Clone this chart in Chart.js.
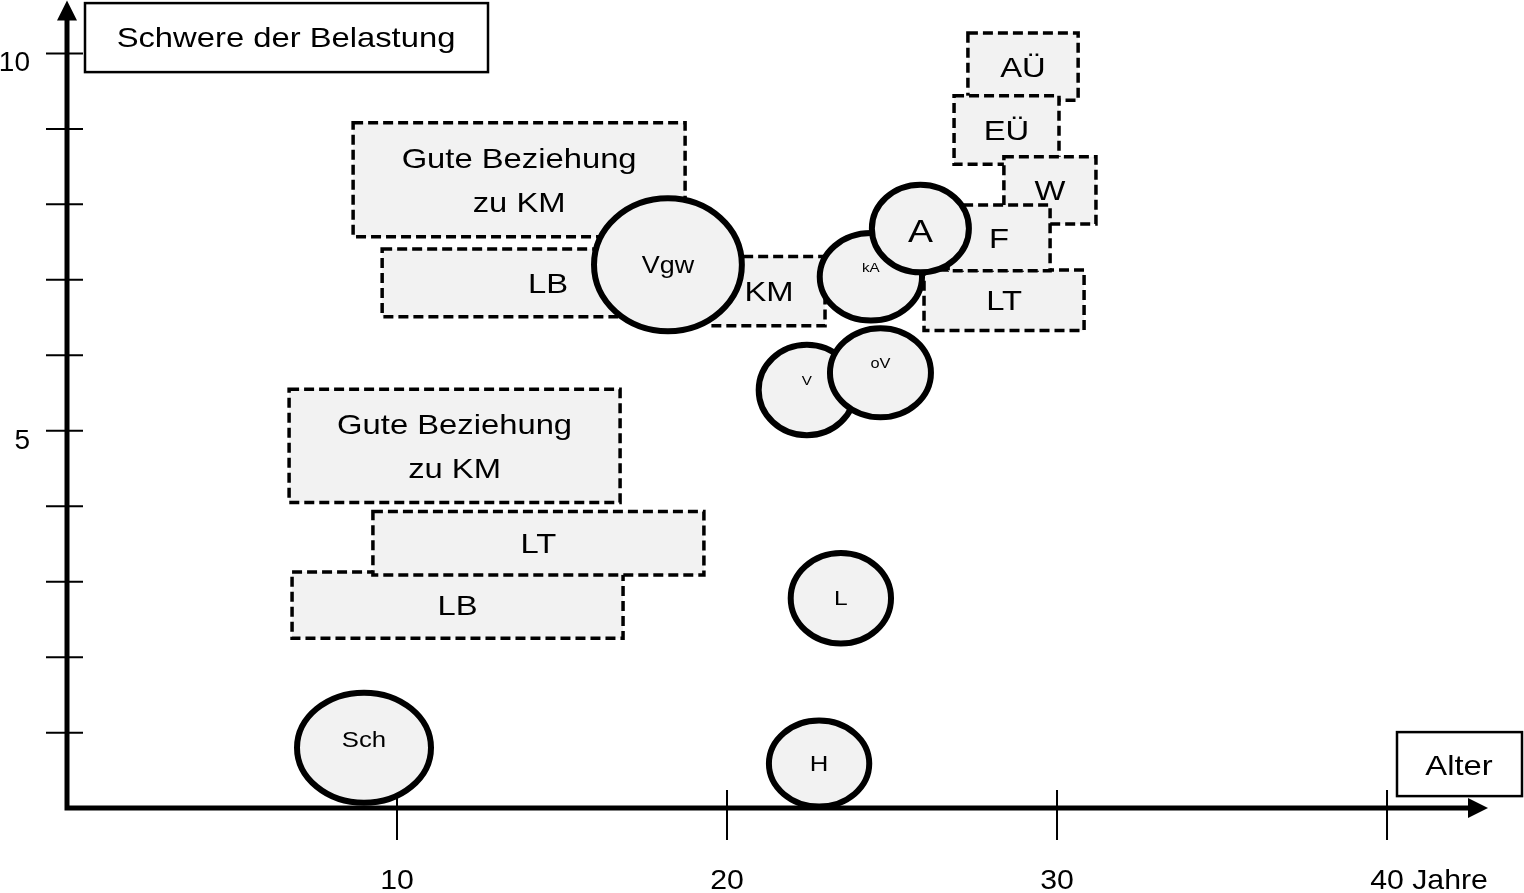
<!DOCTYPE html>
<html>
<head>
<meta charset="utf-8">
<script src="https://cdn.jsdelivr.net/npm/chart.js@4.4.1/dist/chart.umd.min.js"></script>
<style>
    html, body { margin: 0; padding: 0; background: #fff; }
    canvas { display: block; }
</style>
</head>
<body>
<canvas id="belastungChart" width="1524" height="893"></canvas>
<script>
// Rechtecke (Belastungen), Angaben in Achsen-Einheiten: Alter (Jahre) / Schwere
const boxLabels  = ['Gute Beziehung\nzu KM', 'LB', 'KM', 'Gute Beziehung\nzu KM', 'LB', 'LT', 'AÜ', 'EÜ', 'W', 'LT', 'F'];
const boxAgeFrom = [8.67, 9.55, 19.58, 6.73, 6.82, 9.27, 27.30, 26.88, 28.39, 25.97, 26.70];
const boxAgeTo   = [18.73, 19.60, 22.97, 16.76, 16.85, 19.30, 30.64, 30.06, 31.18, 30.82, 29.79];
const boxLow     = [7.57, 6.51, 6.39, 4.05, 2.25, 3.09, 9.38, 8.53, 7.74, 6.33, 7.12];
const boxHigh    = [9.08, 7.41, 7.31, 5.55, 3.13, 3.93, 10.27, 9.44, 8.63, 7.13, 7.99];

// Ellipsen (Ereignisse): Mittelpunkt und halbe Ausdehnung
const eventLabels = ['Sch', 'H', 'L', 'V', 'oV', 'kA', 'A', 'Vgw'];
const eventAge    = [9.00, 22.79, 23.45, 22.42, 24.65, 24.36, 25.86, 18.21];
const eventLoad   = [0.80, 0.59, 2.78, 5.54, 5.77, 7.04, 7.68, 7.20];
const eventHalfX  = [2.03, 1.52, 1.52, 1.46, 1.53, 1.55, 1.47, 2.24];
const eventHalfY  = [0.73, 0.57, 0.60, 0.60, 0.59, 0.58, 0.58, 0.88];

// Achsen
const xTickValues = [10, 20, 30, 40];
const xTickLabels = ['10', '20', '30', '40 Jahre'];
const yTickValues = [1, 2, 3, 4, 5, 6, 7, 8, 9, 10];
const yTickLabels = ['', '', '', '', '5', '', '', '', '', '10'];
const yTitle = 'Schwere der Belastung';
const xTitle = 'Alter';

// Stil
const FONT = '"Liberation Sans", Arial, sans-serif';
const STRETCH = 1.17;
const FILL = '#f2f2f2';
const eventFontSize = [22, 22, 21, 13, 14, 13, 32, 23];
const eventLabelDy  = [-9, 0, -1, -10, -10, -9, 2, 0];

function drawText(ctx, str, px, py, size, align, stretch) {
    // py = Mitte der Grossbuchstaben
    ctx.save();
    ctx.font = size + 'px ' + FONT;
    ctx.translate(px, py);
    ctx.scale(stretch || STRETCH, 1);
    ctx.textAlign = align || 'center';
    ctx.textBaseline = 'alphabetic';
    ctx.fillStyle = '#000';
    ctx.fillText(str, 0, size * 0.358);
    ctx.restore();
}

const sketchPlugin = {
    id: 'sketch',
    afterDatasetsDraw(chart) {
        const ctx = chart.ctx;
        const x = chart.scales.x;
        const y = chart.scales.y;
        const x0 = x.getPixelForValue(0);
        const y0 = y.getPixelForValue(0);
        const xEnd = x.getPixelForValue(x.max);
        const yEnd = y.getPixelForValue(y.max);

        ctx.save();
        ctx.strokeStyle = '#000';
        ctx.fillStyle = '#000';

        // Achsenlinien mit Pfeilen
        ctx.lineWidth = 5;
        ctx.beginPath();
        ctx.moveTo(x0, y0);
        ctx.lineTo(x0, yEnd + 18);
        ctx.moveTo(x0 - 2.5, y0);
        ctx.lineTo(xEnd - 18, y0);
        ctx.stroke();
        ctx.beginPath();
        ctx.moveTo(x0, yEnd);
        ctx.lineTo(x0 - 10, yEnd + 20);
        ctx.lineTo(x0 + 10, yEnd + 20);
        ctx.closePath();
        ctx.fill();
        ctx.beginPath();
        ctx.moveTo(xEnd, y0);
        ctx.lineTo(xEnd - 20, y0 - 10);
        ctx.lineTo(xEnd - 20, y0 + 10);
        ctx.closePath();
        ctx.fill();

        // Striche
        ctx.lineWidth = 2;
        ctx.beginPath();
        yTickValues.forEach(v => {
            const py = y.getPixelForValue(v);
            ctx.moveTo(x0 - 21, py);
            ctx.lineTo(x0 + 16, py);
        });
        xTickValues.forEach(v => {
            const px = x.getPixelForValue(v);
            ctx.moveTo(px, y0 - 18);
            ctx.lineTo(px, y0 + 32);
        });
        ctx.stroke();

        // Beschriftung der Striche
        yTickValues.forEach((v, i) => {
            if (yTickLabels[i]) {
                drawText(ctx, yTickLabels[i], x0 - 37, y.getPixelForValue(v) + 8, 28, 'right', 1.0);
            }
        });
        xTickValues.forEach((v, i) => {
            const label = xTickLabels[i];
            const first = label.split(' ')[0];
            ctx.font = '28px ' + FONT;
            const w = ctx.measureText(first).width * 1.08;
            drawText(ctx, label, x.getPixelForValue(v) - w / 2, y0 + 71, 28, 'left', 1.08);
        });

        // Rechtecke
        boxLabels.forEach((label, i) => {
            const left = x.getPixelForValue(boxAgeFrom[i]);
            const right = x.getPixelForValue(boxAgeTo[i]);
            const top = y.getPixelForValue(boxHigh[i]);
            const bottom = y.getPixelForValue(boxLow[i]);
            ctx.fillStyle = FILL;
            ctx.fillRect(left, top, right - left, bottom - top);
            ctx.setLineDash([10, 5]);
            ctx.lineWidth = 3.5;
            ctx.strokeRect(left, top, right - left, bottom - top);
            ctx.setLineDash([]);
            const lines = label.split('\n');
            const cx = (left + right) / 2;
            const cy = (top + bottom) / 2;
            lines.forEach((line, k) => {
                drawText(ctx, line, cx, cy + (k - (lines.length - 1) / 2) * 44, 28);
            });
        });

        // Ellipsen
        eventLabels.forEach((label, i) => {
            const cx = x.getPixelForValue(eventAge[i]);
            const cy = y.getPixelForValue(eventLoad[i]);
            const rx = Math.abs(x.getPixelForValue(eventAge[i] + eventHalfX[i]) - cx);
            const ry = Math.abs(y.getPixelForValue(eventLoad[i] + eventHalfY[i]) - cy);
            ctx.beginPath();
            ctx.ellipse(cx, cy, rx, ry, 0, 0, Math.PI * 2);
            ctx.fillStyle = FILL;
            ctx.fill();
            ctx.lineWidth = 6;
            ctx.strokeStyle = '#000';
            ctx.stroke();
            drawText(ctx, label, cx, cy + eventLabelDy[i], eventFontSize[i]);
        });

        // Achsentitel in Kaesten
        const tLeft = x0 + 18, tTop = yEnd + 2.5;
        ctx.fillStyle = '#fff';
        ctx.lineWidth = 2.5;
        ctx.fillRect(tLeft, tTop, 403, 69);
        ctx.strokeRect(tLeft, tTop, 403, 69);
        drawText(ctx, yTitle, tLeft + 201, tTop + 34, 28);

        const aLeft = xEnd - 91, aTop = y0 - 76;
        ctx.fillStyle = '#fff';
        ctx.fillRect(aLeft, aTop, 125, 64);
        ctx.strokeRect(aLeft, aTop, 125, 64);
        drawText(ctx, xTitle, aLeft + 62, aTop + 33, 28);

        ctx.restore();
    }
};

const chartCanvas = document.getElementById('belastungChart');
new Chart(chartCanvas.getContext('2d'), {
    type: 'scatter',
    data: {
        datasets: [{
            label: 'Ereignisse',
            data: eventAge.map((a, i) => ({ x: a, y: eventLoad[i] })),
            pointRadius: 0,
            pointHoverRadius: 0
        }]
    },
    options: {
        responsive: false,
        animation: false,
        devicePixelRatio: 1,
        layout: {
            padding: { left: 67, right: 36, top: 0.6, bottom: 84.9 }
        },
        scales: {
            x: { type: 'linear', min: 0, max: 43.06, display: false },
            y: { type: 'linear', min: 0, max: 10.7, display: false }
        },
        plugins: {
            legend: { display: false },
            tooltip: { enabled: false }
        }
    },
    plugins: [sketchPlugin]
});
</script>
</body>
</html>
